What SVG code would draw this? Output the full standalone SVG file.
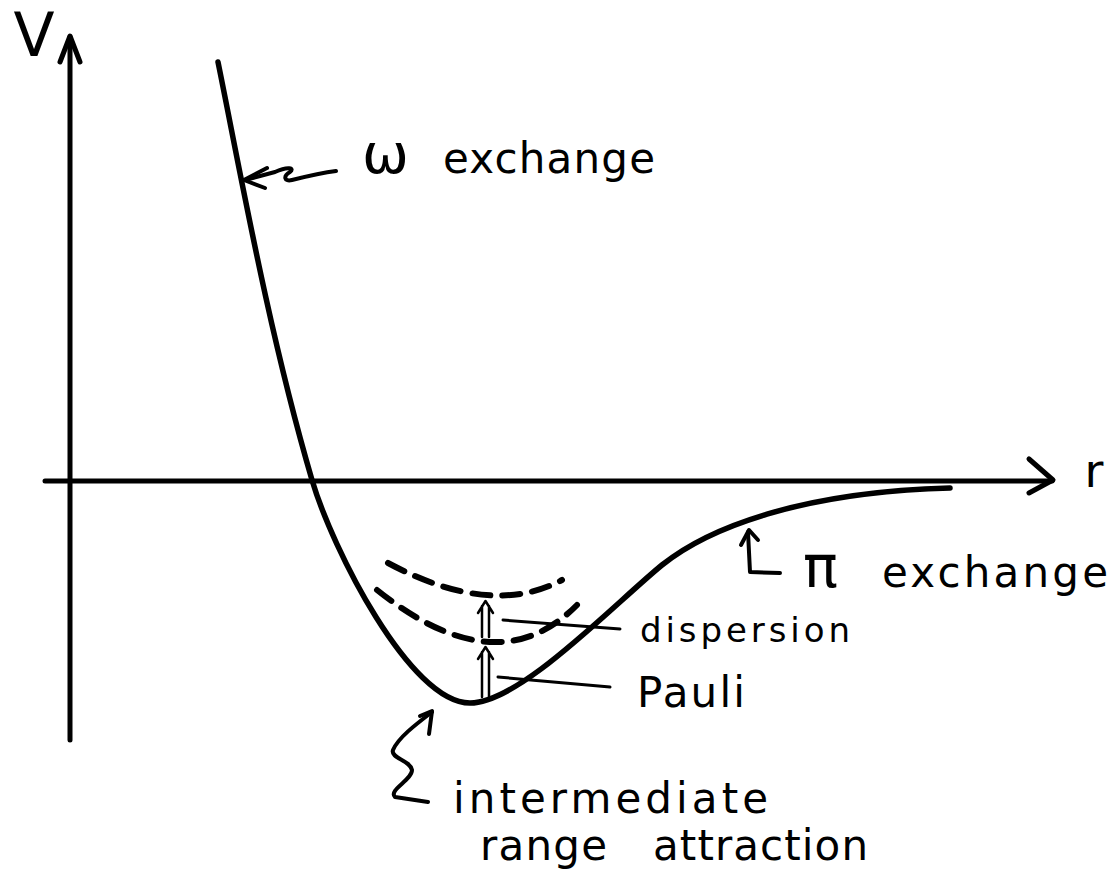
<svg xmlns="http://www.w3.org/2000/svg" width="1112" height="892" viewBox="0 0 1112 892">
<style>
.ln{fill:none;stroke:#000;stroke-linecap:round;stroke-linejoin:round}
.t{font-family:"DejaVu Sans","Liberation Sans",sans-serif;fill:#000}
</style>
<rect width="1112" height="892" fill="#fff"/>
<g id="axes">
<path class="ln" stroke-width="5" d="M70 740 V37"/>
<path class="ln" stroke-width="5" d="M60 62 L70 36 L80 62"/>
<path class="ln" stroke-width="5" d="M45 481 H1052"/>
<path class="ln" stroke-width="5" d="M1029 459 L1053 480 L1029 493"/>
<text class="t" x="34" y="56" font-size="60" text-anchor="middle">V</text>
<text class="t" x="1094" y="487" font-size="46" text-anchor="middle">r</text>
</g>
<g id="potential">
<path class="ln" stroke-width="5.5" d="M218 62 C240 170 268 330 312 480 C332 548 410 703 470 703 C520 703 612 606 662 565 C708 528 800 492 950 488"/>
</g>
<g id="levels">
<path class="ln" stroke-width="6" stroke-dasharray="18 12" d="M388 563 Q491 618 562 580"/>
<path class="ln" stroke-width="6" stroke-dasharray="18 12" d="M377 590 Q497 686 577 605"/>
</g>
<g id="connectors">
<path class="ln" stroke-width="2.5" d="M482 637 V606 M489 637 V606 M478 613 L485.5 601 L493 613"/>
<path class="ln" stroke-width="2.5" d="M482 697 V652 M489 697 V652 M478 659 L485.5 647 L493 659"/>
<path class="ln" stroke-width="3" d="M503 620 L620 629"/>
<path class="ln" stroke-width="3" d="M498 677 L610 687"/>
<path class="ln" stroke-width="4" d="M336 171 C320 173 300 178 292 180 C284 182 283 176 290 172 C295 168 288 166 275 172 L245 180"/>
<path class="ln" stroke-width="4" d="M267 168 L244 180 L265 188"/>
<path class="ln" stroke-width="4" d="M780 573 L750 572 L748 532"/>
<path class="ln" stroke-width="4" d="M741 545 L749 530 L758 540"/>
<path class="ln" stroke-width="4" d="M428 802 L395 797 C388 790 412 780 412 770 C410 760 390 758 393 750 C398 738 415 725 432 712"/>
<path class="ln" stroke-width="4" d="M420 716 L432 711 L429 734"/>
</g>
<g id="labels">
<text class="t" x="362" y="173" font-size="56">ω</text>
<text class="t" x="443" y="173" font-size="42" textLength="212" lengthAdjust="spacing">exchange</text>
<text class="t" x="803" y="587" font-size="58">π</text>
<text class="t" x="882" y="587" font-size="42" textLength="226" lengthAdjust="spacing">exchange</text>
<text class="t" x="640" y="642" font-size="34" textLength="210" lengthAdjust="spacing">dispersion</text>
<text class="t" x="637" y="707" font-size="42" textLength="108" lengthAdjust="spacing">Pauli</text>
<text class="t" x="453" y="813" font-size="42" textLength="315" lengthAdjust="spacing">intermediate</text>
<text class="t" x="480" y="860" font-size="42" textLength="127" lengthAdjust="spacing">range</text>
<text class="t" x="653" y="860" font-size="42" textLength="215" lengthAdjust="spacing">attraction</text>
</g>
</svg>
